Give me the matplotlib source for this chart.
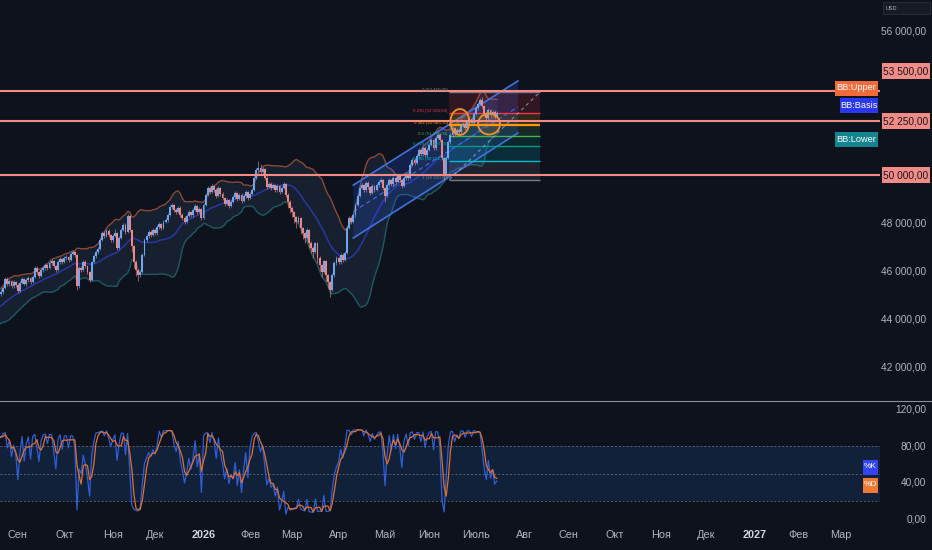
import numpy as np
import pandas as pd
import matplotlib
matplotlib.use('Agg')
import matplotlib.pyplot as plt
from matplotlib.lines import Line2D
from matplotlib.patches import Ellipse, Polygon, Rectangle

plt.rcParams['font.family'] = ['Liberation Sans', 'DejaVu Sans']

# ---------------------------------------------
# Daily OHLC (20 warm-up bars before 2025-08-20)
# ---------------------------------------------
warm_open = [43800, 43900, 44050, 43950, 44100, 44200, 44150, 44300, 44250, 44400,
             44500, 44450, 44600, 44700, 44650, 44800, 44900, 44850, 45000, 45100]
warm_high = [43980, 44120, 44100, 44170, 44280, 44260, 44370, 44350, 44460, 44580,
             44560, 44680, 44760, 44750, 44870, 44980, 44960, 45080, 45180, 45170]
warm_low = [43720, 43830, 43880, 43880, 44020, 44070, 44080, 44180, 44170, 44330,
            44380, 44390, 44530, 44580, 44590, 44720, 44780, 44790, 44930, 44980]
warm_close = [43900, 44050, 43950, 44100, 44200, 44150, 44300, 44250, 44400, 44500,
              44450, 44600, 44700, 44650, 44800, 44900, 44850, 45000, 45100, 45050]

bar_open = [
    45050, 45125, 45290, 45670, 45460, 45580, 45375, 45540, 45420, 45170,
    45500, 45670, 45460, 45625, 45710, 45540, 45750, 46125, 45960, 45790,
    46040, 46125, 46250, 46125, 46330, 46420, 46210, 46040, 46375, 46500,
    46375, 46540, 46580, 46460, 46710, 46790, 46670, 45375, 46125, 46040,
    46375, 46210, 45960, 45625, 46375, 46625, 46790, 46920, 47290, 47580,
    47460, 47670, 47500, 47290, 47460, 47580, 46960, 47375, 47710, 47920,
    47625, 48290, 47710, 47040, 46375, 46040, 45830, 45960, 46670, 47290,
    47460, 47625, 47500, 47710, 47580, 47830, 47960, 47790, 48040, 48125,
    48330, 48670, 48750, 48540, 48460, 48625, 48330, 48210, 48040, 48290,
    48460, 48330, 48540, 48710, 48460, 48580, 48210, 48750, 49170, 49460,
    49290, 49540, 49375, 49125, 49460, 49210, 49040, 48790, 48960, 48710,
    48875, 49080, 49250, 49000, 49170, 48920, 49125, 49290, 49040, 49210,
    49375, 49875, 50210, 50290, 50125, 50250, 49875, 49500, 49625, 49460,
    49580, 49375, 49540, 49290, 49460, 49625, 49170, 48875, 48625, 48460,
    48250, 48040, 48210, 47790, 47580, 47375, 47700, 47170, 46960, 46790,
    47150, 46540, 46250, 45960, 46400, 45830, 45540, 45210, 45830, 46330,
    46540, 46375, 46670, 46460, 46750, 47790, 48210, 48040, 48330, 48750,
    49125, 49460, 49580, 49375, 49670, 49500, 49250, 49540, 49375, 49580,
    49710, 49790, 49460, 49125, 49580, 49790, 49625, 49875, 49710, 49960,
    49790, 49540, 49875, 50040, 49875, 50420, 50625, 50500, 50790, 51040,
    50875, 51125, 50830, 51040, 51250, 51460, 51125, 51540, 51670, 51460,
    50710, 49960, 50710, 51375, 51670, 51960, 51710, 51875, 51790, 52040,
    52125, 51960, 52210, 52330, 52170, 52540, 52790, 52960, 53125, 52875,
    52540, 52375, 52710, 52500, 52625, 52420]
bar_high = [
    45230, 45360, 45740, 45760, 45650, 45640, 45610, 45600, 45480, 45570,
    45760, 45720, 45700, 45790, 45770, 45820, 46200, 46190, 46010, 46110,
    46210, 46330, 46310, 46400, 46500, 46470, 46260, 46450, 46580, 46560,
    46620, 46660, 46640, 46780, 46870, 46850, 46720, 46200, 46210, 46450,
    46440, 46270, 46010, 46430, 46700, 46880, 47010, 47370, 47660, 47670,
    47740, 47730, 47560, 47530, 47740, 47640, 47440, 47790, 48000, 47980,
    48375, 48350, 47770, 47100, 46440, 46100, 46040, 46740, 47360, 47540,
    47700, 47690, 47790, 47780, 47900, 48040, 48020, 48110, 48200, 48400,
    48740, 48830, 48810, 48620, 48700, 48690, 48400, 48280, 48360, 48540,
    48520, 48610, 48790, 48770, 48650, 48640, 48820, 49240, 49540, 49530,
    49620, 49600, 49440, 49530, 49520, 49280, 49100, 49030, 49020, 48950,
    49150, 49330, 49310, 49240, 49230, 49200, 49370, 49350, 49280, 49450,
    49950, 50290, 50580, 50460, 50330, 50310, 49940, 49700, 49690, 49650,
    49640, 49610, 49600, 49530, 49700, 49680, 49240, 48940, 48690, 48520,
    48310, 48290, 48270, 47850, 47640, 47780, 47760, 47240, 47030, 47220,
    47200, 46610, 46310, 46470, 46450, 45890, 45600, 45900, 46400, 46620,
    46610, 46740, 46730, 46830, 47860, 48290, 48280, 48400, 48830, 49200,
    49540, 49660, 49640, 49740, 49730, 49560, 49610, 49600, 49650, 49790,
    49870, 49850, 49520, 49650, 49870, 49850, 49950, 49940, 50040, 50020,
    49850, 49950, 50120, 50100, 50500, 50700, 50690, 50860, 51120, 51100,
    51200, 51190, 51110, 51330, 51540, 51520, 51610, 51750, 51730, 51520,
    50770, 50780, 51440, 51750, 52040, 52020, 51950, 51960, 52110, 52200,
    52190, 52280, 52410, 52400, 52610, 52870, 53040, 53200, 53250, 52930,
    52610, 52780, 52770, 52700, 52690, 52650]
bar_low = [
    44960, 45060, 45230, 45390, 45380, 45290, 45310, 45340, 45080, 45120,
    45440, 45400, 45390, 45560, 45470, 45480, 45700, 45890, 45700, 45740,
    45970, 46060, 46050, 46070, 46270, 46140, 45950, 45990, 46310, 46300,
    46320, 46470, 46390, 46410, 46650, 46600, 45210, 45300, 45960, 45980,
    46130, 45880, 45540, 45580, 46320, 46560, 46720, 46870, 47230, 47380,
    47400, 47420, 47200, 47220, 47400, 46880, 46900, 47320, 47650, 47550,
    47570, 47630, 46800, 46130, 45800, 45580, 45750, 45900, 46610, 47220,
    47390, 47420, 47440, 47510, 47520, 47770, 47720, 47730, 47980, 48060,
    48280, 48600, 48470, 48380, 48400, 48260, 48130, 47960, 47980, 48230,
    48260, 48270, 48480, 48390, 48400, 48130, 48160, 48700, 49110, 49220,
    49230, 49300, 49050, 49070, 49140, 48960, 48710, 48730, 48640, 48650,
    48820, 49020, 48930, 48940, 48850, 48860, 49060, 48970, 48980, 49150,
    49320, 49820, 50140, 50060, 50060, 49800, 49420, 49440, 49390, 49400,
    49300, 49310, 49210, 49230, 49400, 49090, 48640, 48400, 48250, 48020,
    47800, 47980, 47550, 47350, 47150, 47310, 46950, 46730, 46560, 46730,
    46320, 46020, 45730, 45900, 45600, 45300, 44900, 45150, 45770, 46270,
    46300, 46310, 46390, 46400, 46700, 47730, 47960, 47980, 48270, 48690,
    49070, 49400, 49300, 49310, 49430, 49170, 49190, 49300, 49320, 49520,
    49650, 49380, 48880, 49070, 49520, 49550, 49560, 49640, 49650, 49720,
    49460, 49480, 49810, 49800, 49820, 50360, 50430, 50440, 50730, 50800,
    50810, 50750, 50770, 50980, 51190, 51050, 51060, 51480, 51390, 50630,
    49810, 49900, 50650, 51310, 51600, 51640, 51650, 51700, 51730, 51980,
    51890, 51900, 52150, 52100, 52110, 52480, 52720, 52900, 52800, 52460,
    52300, 52310, 52430, 52440, 52350, 52360]
bar_close = [
    45125, 45290, 45670, 45460, 45580, 45375, 45540, 45420, 45170, 45500,
    45670, 45460, 45625, 45710, 45540, 45750, 46125, 45960, 45790, 46040,
    46125, 46250, 46125, 46330, 46420, 46210, 46040, 46375, 46500, 46375,
    46540, 46580, 46460, 46710, 46790, 46670, 45375, 46125, 46040, 46375,
    46210, 45960, 45625, 46375, 46625, 46790, 46920, 47290, 47580, 47460,
    47670, 47500, 47290, 47460, 47580, 46960, 47375, 47710, 47920, 47625,
    48290, 47710, 47040, 46375, 46040, 45830, 45960, 46670, 47290, 47460,
    47625, 47500, 47710, 47580, 47830, 47960, 47790, 48040, 48125, 48330,
    48670, 48750, 48540, 48460, 48625, 48330, 48210, 48040, 48290, 48460,
    48330, 48540, 48710, 48460, 48580, 48210, 48750, 49170, 49460, 49290,
    49540, 49375, 49125, 49460, 49210, 49040, 48790, 48960, 48710, 48875,
    49080, 49250, 49000, 49170, 48920, 49125, 49290, 49040, 49210, 49375,
    49875, 50210, 50290, 50125, 50250, 49875, 49500, 49625, 49460, 49580,
    49375, 49540, 49290, 49460, 49625, 49170, 48875, 48625, 48460, 48250,
    48040, 48210, 47790, 47580, 47375, 47700, 47170, 46960, 46790, 47150,
    46540, 46250, 45960, 46400, 45830, 45540, 45210, 45830, 46330, 46540,
    46375, 46670, 46460, 46750, 47790, 48210, 48040, 48330, 48750, 49125,
    49460, 49580, 49375, 49670, 49500, 49250, 49540, 49375, 49580, 49710,
    49790, 49460, 49125, 49580, 49790, 49625, 49875, 49710, 49960, 49790,
    49540, 49875, 50040, 49875, 50420, 50625, 50500, 50790, 51040, 50875,
    51125, 50830, 51040, 51250, 51460, 51125, 51540, 51670, 51460, 50710,
    49960, 50710, 51375, 51670, 51960, 51710, 51875, 51790, 52040, 52125,
    51960, 52210, 52330, 52170, 52540, 52790, 52960, 53125, 52875, 52540,
    52375, 52710, 52500, 52625, 52420, 52580]

# horizontal levels drawn on the chart
level_prices = [53500, 52250, 50000]

# fibonacci retracement (bar index anchors, prices)
fib_x = [212.5, 255.5]
fib_low, fib_high = 49810, 53460
fib_levels = [0, 0.236, 0.382, 0.5, 0.618, 0.786, 1]
fib_colors = ['#787b86', '#f23645', '#ff9800', '#4caf50', '#089981', '#00bcd4', '#787b86']

# parallel channel
chan_x = [167, 245]
chan_top = [49580, 53920]
chan_bot = [47375, 51750]

# highlighted ellipses: (bar, price, width in bars, height in price)
circles = [(217.5, 52210, 9.0, 1080), (231.3, 52125, 10.4, 875)]

# axis labels
months_ru = ['Янв', 'Фев', 'Мар', 'Апр', 'Май', 'Июн', 'Июль', 'Авг', 'Сен', 'Окт', 'Ноя', 'Дек']
price_ticks = [42000, 44000, 46000, 48000, 50000, 52000, 54000, 56000]
stoch_ticks = [0, 40, 80, 120]

# ---------------------------------------------
# Setup
# ---------------------------------------------
W, H = 932, 550
BG = '#0d121c'
TXT = '#b2b5be'
UP = '#6ea6f2'
DOWN = '#f08683'


def fmt(v):
    return f"{v:,.2f}".replace(',', ' ').replace('.', ',')


o = np.array(warm_open + bar_open, dtype=float)
h = np.array(warm_high + bar_high, dtype=float)
l = np.array(warm_low + bar_low, dtype=float)
c = np.array(warm_close + bar_close, dtype=float)
x = np.arange(len(c)) - len(warm_close)

fig = plt.figure(figsize=(W / 100, H / 100), dpi=100, facecolor=BG)
ax = fig.add_axes([0, 150 / H, 880 / W, 400 / H])
ax2 = fig.add_axes([0, 23 / H, 880 / W, 126 / H])
for a in (ax, ax2):
    a.set_facecolor(BG)
    for s in a.spines.values():
        s.set_visible(False)
    a.set_xticks([])
    a.set_yticks([])
    a.set_xlim(-0.47, 416.6)
ax.set_ylim(40625, 57292)
ax2.set_ylim(-8.8, 129.9)

# ---------------------------------------------
# Bollinger bands (20, 2)
# ---------------------------------------------
sc = pd.Series(c)
basis = sc.rolling(20).mean()
dev = sc.rolling(20).std(ddof=0)
upper = basis + 2 * dev
lower = basis - 2 * dev
ax.fill_between(x, upper, lower, color='#16202e', lw=0, zorder=1)
ax.plot(x, upper, color='#8a4a36', lw=1, zorder=2)
ax.plot(x, basis, color='#2b36a6', lw=1.1, zorder=2)
ax.plot(x, lower, color='#1d5a62', lw=1, zorder=2)

# ---------------------------------------------
# Parallel channel
# ---------------------------------------------
poly = Polygon([(chan_x[0], chan_top[0]), (chan_x[1], chan_top[1]),
                (chan_x[1], chan_bot[1]), (chan_x[0], chan_bot[0])],
               closed=True, facecolor='#2962ff', alpha=0.2, edgecolor='none', zorder=2)
ax.add_patch(poly)
ax.plot(chan_x, chan_top, color='#3f72e0', lw=1.2, zorder=3)
ax.plot(chan_x, chan_bot, color='#3f72e0', lw=1.2, zorder=3)
ax.plot(chan_x, [(chan_top[0] + chan_bot[0]) / 2, (chan_top[1] + chan_bot[1]) / 2],
        color='#3f72e0', lw=0.8, ls=(0, (4, 3)), zorder=3)

# ---------------------------------------------
# Fibonacci retracement
# ---------------------------------------------
fib_p = [fib_high - lv * (fib_high - fib_low) for lv in fib_levels]
for j in range(1, len(fib_levels)):
    ax.fill_between(fib_x, fib_p[j - 1], fib_p[j], color=fib_colors[j], alpha=0.16, lw=0, zorder=2)
for j, lv in enumerate(fib_levels):
    lw = 1.6 if lv == 0.382 else 1.0
    ax.hlines(fib_p[j], fib_x[0], fib_x[1], colors=fib_colors[j], lw=lw, zorder=3)
    ax.text(fib_x[0] - 0.8, fib_p[j], f"{lv:g} ({fmt(fib_p[j])})", ha='right', va='bottom',
            fontsize=3.2, color=fib_colors[j], zorder=6)
ax.plot(fib_x, [fib_low, fib_high], color='#9ea3ae', lw=0.8, ls=(0, (3, 3)), alpha=0.8, zorder=3)

# ---------------------------------------------
# Candles
# ---------------------------------------------
up = c >= o
for mask, col in ((up, UP), (~up, DOWN)):
    ax.vlines(x[mask], l[mask], h[mask], color=col, lw=0.8, alpha=0.6, zorder=4)
    ax.bar(x[mask], c[mask] - o[mask], bottom=o[mask], width=0.9, color=col, lw=0, zorder=4)

for cx, cy, cw, ch in circles:
    ax.add_patch(Ellipse((cx, cy), cw, ch, facecolor='#ff9800', alpha=0.12, edgecolor='none', zorder=5))
    ax.add_patch(Ellipse((cx, cy), cw, ch, facecolor='none', edgecolor='#f0922b', lw=1.3, zorder=5))

for p in level_prices:
    ax.axhline(p, color='#f28b85', lw=1.5, zorder=5)

# ---------------------------------------------
# Stochastic (14, 1, 3)
# ---------------------------------------------
hh = pd.Series(h).rolling(14).max()
ll = pd.Series(l).rolling(14).min()
k = 100 * (sc - ll) / (hh - ll)
d = k.rolling(3).mean()
ax2.axhspan(20, 80, color='#11213a', lw=0, zorder=0)
for lvl in (80, 50, 20):
    ax2.axhline(lvl, color='#787b86', lw=0.7, ls=(0, (2, 2)), alpha=0.7, zorder=1)
ax2.plot(x, k, color='#2f5fd6', lw=0.9, zorder=2)
ax2.plot(x, d, color='#e0702f', lw=0.9, zorder=3)

fig.add_artist(Line2D([0, 1], [1 - 401 / H] * 2, transform=fig.transFigure, color='#8e919b', lw=0.8))

# ---------------------------------------------
# Axis texts
# ---------------------------------------------
fig.canvas.draw()
inv = fig.transFigure.inverted()


def fy(axis, v):
    return inv.transform(axis.transData.transform((0, v)))[1]


def fx(v):
    return inv.transform(ax.transData.transform((v, 0)))[0]


# price tags for the horizontal levels (top one pushed up by the scale)
tag_shift = [-20, 0, 0]
tag_y = [fy(ax, p) - sh / H for p, sh in zip(level_prices, tag_shift)]

for p in price_ticks:
    yy = fy(ax, p)
    if min(abs(yy - t) for t in tag_y) * H < 12:
        continue  # hidden behind a level tag
    fig.text(926 / W, yy, fmt(p), ha='right', va='center', fontsize=7.3, color=TXT, zorder=3)
for p in stoch_ticks:
    fig.text(926 / W, fy(ax2, p), fmt(p), ha='right', va='center', fontsize=7.3, color=TXT, zorder=3)

dates = pd.bdate_range('2025-08-20', periods=440)
for j in range(1, len(dates)):
    if dates[j].month != dates[j - 1].month and j < 416:
        if dates[j].month == 1:
            fig.text(fx(j), 1 - 535 / H, str(dates[j].year), ha='center', va='center',
                     fontsize=7.8, color='#d1d4dc', fontweight='bold')
        else:
            fig.text(fx(j), 1 - 535 / H, months_ru[dates[j].month - 1], ha='center', va='center',
                     fontsize=7.8, color=TXT)


def tag(x_right, y_frac, w, hgt, text, bg, fg, fs=7.3):
    fig.add_artist(Rectangle(((x_right - w) / W, y_frac - hgt / 2 / H), w / W, hgt / H,
                             transform=fig.transFigure, facecolor=bg, edgecolor='none', zorder=5))
    fig.text((x_right - w / 2) / W, y_frac, text, ha='center', va='center', color=fg,
             fontsize=fs, zorder=6)


for p, ty in zip(level_prices, tag_y):
    tag(930, ty, 48, 16, fmt(p), '#f28b85', '#131722')

# indicator tags
tag(878, 1 - 88 / H, 43, 15, 'BB:Upper', '#f06a3a', 'white', 6.6)
tag(878, 1 - 105 / H, 38, 15, 'BB:Basis', '#2b36f0', 'white', 6.6)
tag(878, 1 - 139 / H, 43, 15, 'BB:Lower', '#14858f', 'white', 6.6)
tag(878, 1 - 467 / H, 15, 15, '%K', '#3344f2', 'white', 6)
tag(878, 1 - 485 / H, 15, 15, '%D', '#f07a34', 'white', 6)

fig.add_artist(Rectangle((883 / W, 1 - 14 / H), 47 / W, 12 / H, transform=fig.transFigure,
                         facecolor='#161b26', edgecolor='#2a2e39', lw=0.6, zorder=5))
fig.text(886 / W, 1 - 8 / H, 'USD', ha='left', va='center', fontsize=4, color=TXT, zorder=6)

fig.savefig('out.png', dpi=100, facecolor=BG)
plt.close()
